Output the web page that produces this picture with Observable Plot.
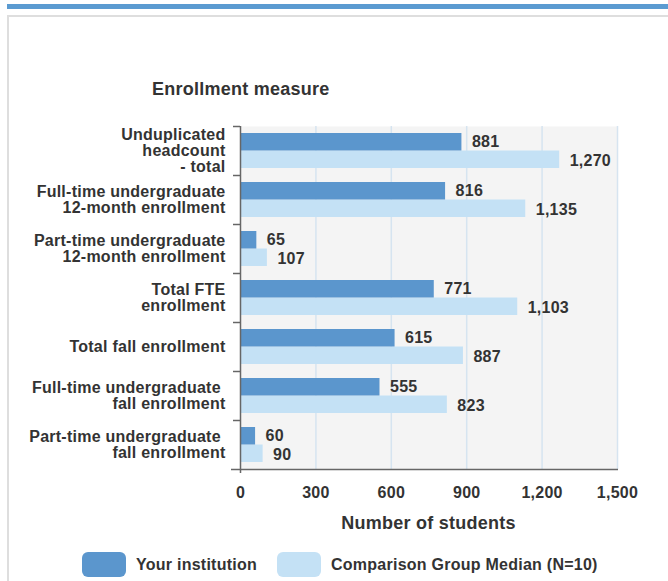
<!DOCTYPE html>
<html>
<head>
<meta charset="utf-8">
<script src="https://cdn.jsdelivr.net/npm/d3@7"></script>
<script src="https://cdn.jsdelivr.net/npm/@observablehq/plot@0.6"></script>
<style>
  html, body { margin: 0; padding: 0; background: #fff; }
  body { width: 668px; height: 581px; position: relative; overflow: hidden;
         font-family: "Liberation Sans", Arial, Helvetica, sans-serif; color: #333; letter-spacing: 0.25px; }
  .topbar { position: absolute; left: 7px; right: 0; top: 4px; height: 5px; background: #5b9bd1; }
  .card { position: absolute; left: 7px; top: 15px; width: 700px; height: 600px;
          border-top: 2px solid #dedede; border-left: 2px solid #dedede; }
  #chart { position: absolute; left: 0; top: 0; }
  .title { position: absolute; left: 152px; top: 79px; font-size: 18px; font-weight: bold; }
  .xlabel { position: absolute; left: 240px; width: 377px; text-align: center; top: 513px;
            font-size: 18px; font-weight: bold; }
  .legend { position: absolute; top: 552px; left: 82px; display: flex; align-items: center;
            font-size: 16px; font-weight: bold; }
  .sw { width: 44px; height: 25px; border-radius: 6px; margin-right: 10px; }
  .item { display: flex; align-items: center; margin-right: 20px; }
</style>
</head>
<body>
<div class="topbar"></div>
<div class="card"></div>
<div id="chart"></div>
<div class="title">Enrollment measure</div>
<div class="xlabel">Number of students</div>
<div class="legend" id="legend"></div>
<script>
const categories = [
  "Unduplicated\nheadcount\n- total",
  "Full-time undergraduate\n12-month enrollment",
  "Part-time undergraduate\n12-month enrollment",
  "Total FTE\nenrollment",
  "Total fall enrollment",
  "Full-time undergraduate\u00a0\nfall enrollment",
  "Part-time undergraduate\u00a0\nfall enrollment"
];
const yourInstitution = [881, 816, 65, 771, 615, 555, 60];
const comparisonMedian = [1270, 1135, 107, 1103, 887, 823, 90];
const xTicks = [0, 300, 600, 900, 1200, 1500];
const seriesNames = ["Your institution", "Comparison Group Median (N=10)"];
const seriesColors = ["#5b96cd", "#c4e1f5"];

const data = categories.map((c, i) => ({cat: c, inst: yourInstitution[i], comp: comparisonMedian[i]}));

const W = 668, H = 540, mL = 240, mR = 51, mT = 126, mB = 71;
const plotW = W - mL - mR;
const band = (H - mT - mB) / categories.length;
const pad = 7;
const fmt = d3.format(",");

const chart = Plot.plot({
  width: W, height: H,
  marginLeft: mL, marginRight: mR, marginTop: mT, marginBottom: mB,
  style: {fontFamily: "'Liberation Sans', Arial, sans-serif", fontSize: "16px", fontWeight: "bold", color: "#333", background: "transparent", letterSpacing: "0.25px"},
  x: {domain: [xTicks[0], xTicks[xTicks.length - 1]]},
  y: {domain: categories, padding: 0},
  marks: [
    Plot.frame({fill: "#f4f4f4", stroke: null}),
    Plot.gridX(xTicks.slice(1), {stroke: "#d6e4f0", strokeOpacity: 1, strokeWidth: 1.5}),
    Plot.barX(data, {x: "comp", y: "cat", fill: seriesColors[1], insetTop: band / 2, insetBottom: pad}),
    Plot.barX(data, {x: "inst", y: "cat", fill: seriesColors[0], insetTop: pad, insetBottom: band / 2}),
    Plot.text(data, {x: "inst", y: "cat", text: d => fmt(d.inst), dx: 10, dy: -(band / 2 - pad) / 2 - pad / 2 + 3, textAnchor: "start", fill: "#333"}),
    Plot.text(data, {x: "comp", y: "cat", text: d => fmt(d.comp), dx: 10, dy: (band / 2 - pad) / 2 + 1, textAnchor: "start", fill: "#333"}),
    Plot.ruleY(categories, {dy: -band / 2, insetLeft: -7, insetRight: plotW, stroke: "#666", strokeWidth: 1.5}),
    Plot.ruleY([categories[categories.length - 1]], {dy: band / 2, insetLeft: -9, insetRight: -1, stroke: "#666", strokeWidth: 1.5}),
    Plot.ruleX([0], {stroke: "#666", strokeWidth: 1.5, insetBottom: -4}),
    Plot.axisX(xTicks, {tickSize: 0, tickPadding: 17, tickFormat: fmt, label: null}),
    Plot.axisY({tickSize: 0, tickPadding: 15, label: null})
  ]
});
document.getElementById("chart").appendChild(chart);

const legend = document.getElementById("legend");
seriesNames.forEach((name, i) => {
  const item = document.createElement("div");
  item.className = "item";
  const sw = document.createElement("div");
  sw.className = "sw";
  sw.style.background = seriesColors[i];
  const t = document.createElement("span");
  t.textContent = name;
  item.appendChild(sw);
  item.appendChild(t);
  legend.appendChild(item);
});
</script>
</body>
</html>
